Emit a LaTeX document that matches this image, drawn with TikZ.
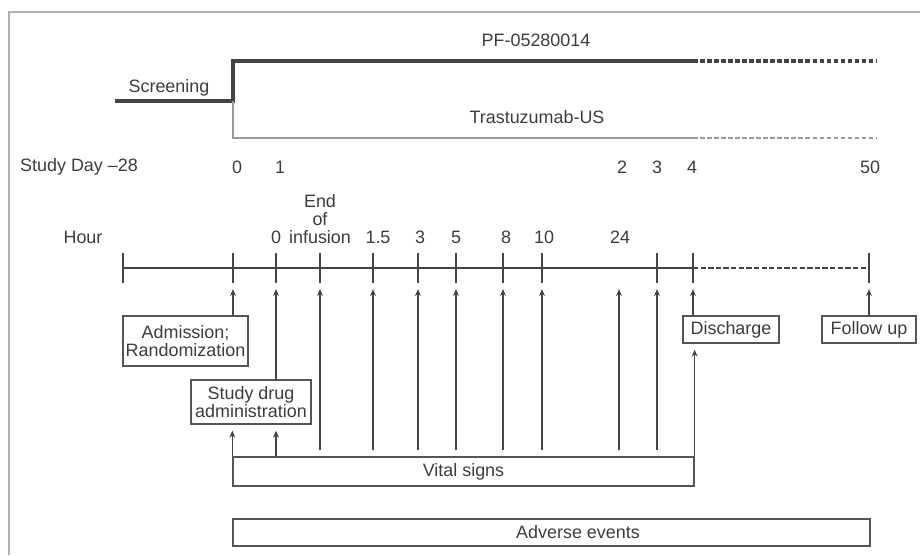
\documentclass[tikz,border=0pt]{standalone}
\usepackage{fontspec}
\setmainfont{Liberation Sans}
\usepackage{xcolor}
\usepackage{tikz}
\usetikzlibrary{arrows.meta, positioning, calc}

\definecolor{ink}{HTML}{3C3C3C}
\definecolor{rulegray}{HTML}{444444}
\definecolor{armgray}{HTML}{9A9A9A}
\definecolor{boxgray}{HTML}{555555}
\definecolor{framegray}{HTML}{B0B0B0}

\begin{document}
\begin{tikzpicture}[
    x=0.03cm, y=-0.03cm,
    lbl/.style={inner sep=0pt, text=ink, align=center, font=\fontsize{15.3}{15.3}\selectfont},
    box/.style={draw=boxgray, line width=1.1pt, inner sep=2pt, align=center, text=ink, font=\fontsize{15.3}{15.3}\selectfont},
    arrow/.style={-{Stealth[length=6pt, width=5pt]}, line width=1.2pt, draw=rulegray},
    tickline/.style={line width=1.2pt, draw=rulegray},
    timeaxis/.style={line width=2.2pt, draw=rulegray},
    arm/.style={line width=2.6pt, draw=rulegray},
    dashline/.style={dash pattern=on 4pt off 2pt}
]
    \useasboundingbox (0,0) rectangle (920,555);
    \draw[framegray, line width=1.5pt] (9,555) -- (9,12) -- (920,12);

    % treatment arms
    \node[lbl] (pf) at (536,40) {PF-05280014};
    \node[lbl] (screen) at (169,88) {Screening};
    \node[lbl] (trast) at (537,117) {Trastuzumab-US};
    \coordinate (scr) at (115,101);
    \coordinate (split) at (233,101);
    \coordinate (pfa) at (233,61);
    \coordinate (pfb) at (693,61);
    \coordinate (pfc) at (876,61);
    \coordinate (tra) at (233,138);
    \coordinate (trb) at (693,138);
    \coordinate (trc) at (876,138);
    \draw[arm] (scr) -- (split) -- (pfa) -- (pfb);
    \draw[arm, dashline] (pfb) -- (pfc);
    \draw[arm, draw=armgray, line width=2.2pt] (split) -- (tra) -- (trb);
    \draw[arm, draw=armgray, line width=2.2pt, dashline] (trb) -- (trc);

    % study days
    \node[lbl, anchor=west] (sday) at (20,167) {Study Day \textendash28};
    \node[lbl] (d0) at (237,167) {0};
    \node[lbl] (d1) at (280,167) {1};
    \node[lbl] (d2) at (622,167) {2};
    \node[lbl] (d3) at (657,167) {3};
    \node[lbl] (d4) at (692,167) {4};
    \node[lbl] (d50) at (870,167) {50};

    % hours
    \node[lbl] (hour) at (83,237) {Hour};
    \node[lbl] (l0) at (276,237) {0};
    \node[lbl] (linf) at (320,219) {End\\of\\infusion};
    \node[lbl] (l15) at (378,237) {1.5};
    \node[lbl] (l3) at (420,237) {3};
    \node[lbl] (l5) at (456,237) {5};
    \node[lbl] (l8) at (506,237) {8};
    \node[lbl] (l10) at (544,237) {10};
    \node[lbl] (l24) at (620,237) {24};

    % time axis
    \coordinate (tstart) at (123,268);
    \coordinate (tadm) at (233,268);
    \coordinate (t0) at (276,268);
    \coordinate (tinf) at (320,268);
    \coordinate (t15) at (373,268);
    \coordinate (t3) at (418,268);
    \coordinate (t5) at (456,268);
    \coordinate (t8) at (503,268);
    \coordinate (t10) at (542,268);
    \coordinate (t24) at (619,268);
    \coordinate (tday3) at (657,268);
    \coordinate (tday4) at (693,268);
    \coordinate (tday50) at (869,268);
    \draw[timeaxis] (tstart) -- (tday4);
    \draw[timeaxis, dash pattern=on 4.5pt off 2pt] (tday4) -- (tday50);
    \draw[tickline] ([yshift=0.45cm]tstart) -- ([yshift=-0.45cm]tstart);
    \draw[tickline] ([yshift=0.45cm]tadm) -- ([yshift=-0.45cm]tadm);
    \draw[tickline] ([yshift=0.45cm]t0) -- ([yshift=-0.45cm]t0);
    \draw[tickline] ([yshift=0.45cm]tinf) -- ([yshift=-0.45cm]tinf);
    \draw[tickline] ([yshift=0.45cm]t15) -- ([yshift=-0.45cm]t15);
    \draw[tickline] ([yshift=0.45cm]t3) -- ([yshift=-0.45cm]t3);
    \draw[tickline] ([yshift=0.45cm]t5) -- ([yshift=-0.45cm]t5);
    \draw[tickline] ([yshift=0.45cm]t8) -- ([yshift=-0.45cm]t8);
    \draw[tickline] ([yshift=0.45cm]t10) -- ([yshift=-0.45cm]t10);
    \draw[tickline] ([yshift=0.45cm]tday3) -- ([yshift=-0.45cm]tday3);
    \draw[tickline] ([yshift=0.45cm]tday4) -- ([yshift=-0.45cm]tday4);
    \draw[tickline] ([yshift=0.45cm]tday50) -- ([yshift=-0.45cm]tday50);

    % events
    \node[box, minimum width=3.75cm, minimum height=1.5cm] (adm) at (185.5,341) {Admission;\\Randomization};
    \node[box, minimum width=3.6cm, minimum height=1.32cm] (drug) at (251,402) {Study drug\\administration};
    \node[box, minimum width=2.88cm, minimum height=0.81cm] (disch) at (731,329.5) {Discharge};
    \node[box, minimum width=2.82cm, minimum height=0.81cm] (follow) at (869,329.5) {Follow up};
    \node[box, minimum width=13.83cm, minimum height=0.87cm] (vital) at (463.5,471.5) {Vital signs};
    \node[box, minimum width=19.11cm, minimum height=0.81cm] (adv) at (551.5,532.5) {};
    \node[lbl] (advtxt) at (578,532) {Adverse events};

    \draw[arrow] (adm.north -| tadm) -- ([yshift=-0.63cm]tadm);
    \draw[arrow] (drug.north -| t0) -- ([yshift=-0.63cm]t0);
    \draw[arrow] (disch.north -| tday4) -- ([yshift=-0.63cm]tday4);
    \draw[arrow] (follow.north) -- ([yshift=-0.63cm]tday50);

    \draw[arrow, shorten <=0.18cm] (vital.north -| tinf) -- ([yshift=-0.63cm]tinf);
    \draw[arrow, shorten <=0.18cm] (vital.north -| t15) -- ([yshift=-0.63cm]t15);
    \draw[arrow, shorten <=0.18cm] (vital.north -| t3) -- ([yshift=-0.63cm]t3);
    \draw[arrow, shorten <=0.18cm] (vital.north -| t5) -- ([yshift=-0.63cm]t5);
    \draw[arrow, shorten <=0.18cm] (vital.north -| t8) -- ([yshift=-0.63cm]t8);
    \draw[arrow, shorten <=0.18cm] (vital.north -| t10) -- ([yshift=-0.63cm]t10);
    \draw[arrow, shorten <=0.18cm] (vital.north -| t24) -- ([yshift=-0.63cm]t24);
    \draw[arrow, shorten <=0.18cm] (vital.north -| tday3) -- ([yshift=-0.63cm]tday3);

    \draw[arrow, shorten >=0.18cm] (vital.north west) -- (vital.north west |- drug.south);
    \draw[arrow, shorten >=0.18cm] (vital.north -| t0) -- (drug.south -| t0);
    \draw[arrow, shorten >=0.18cm] (vital.north east) -- (vital.north east |- disch.south);
\end{tikzpicture}
\end{document}
